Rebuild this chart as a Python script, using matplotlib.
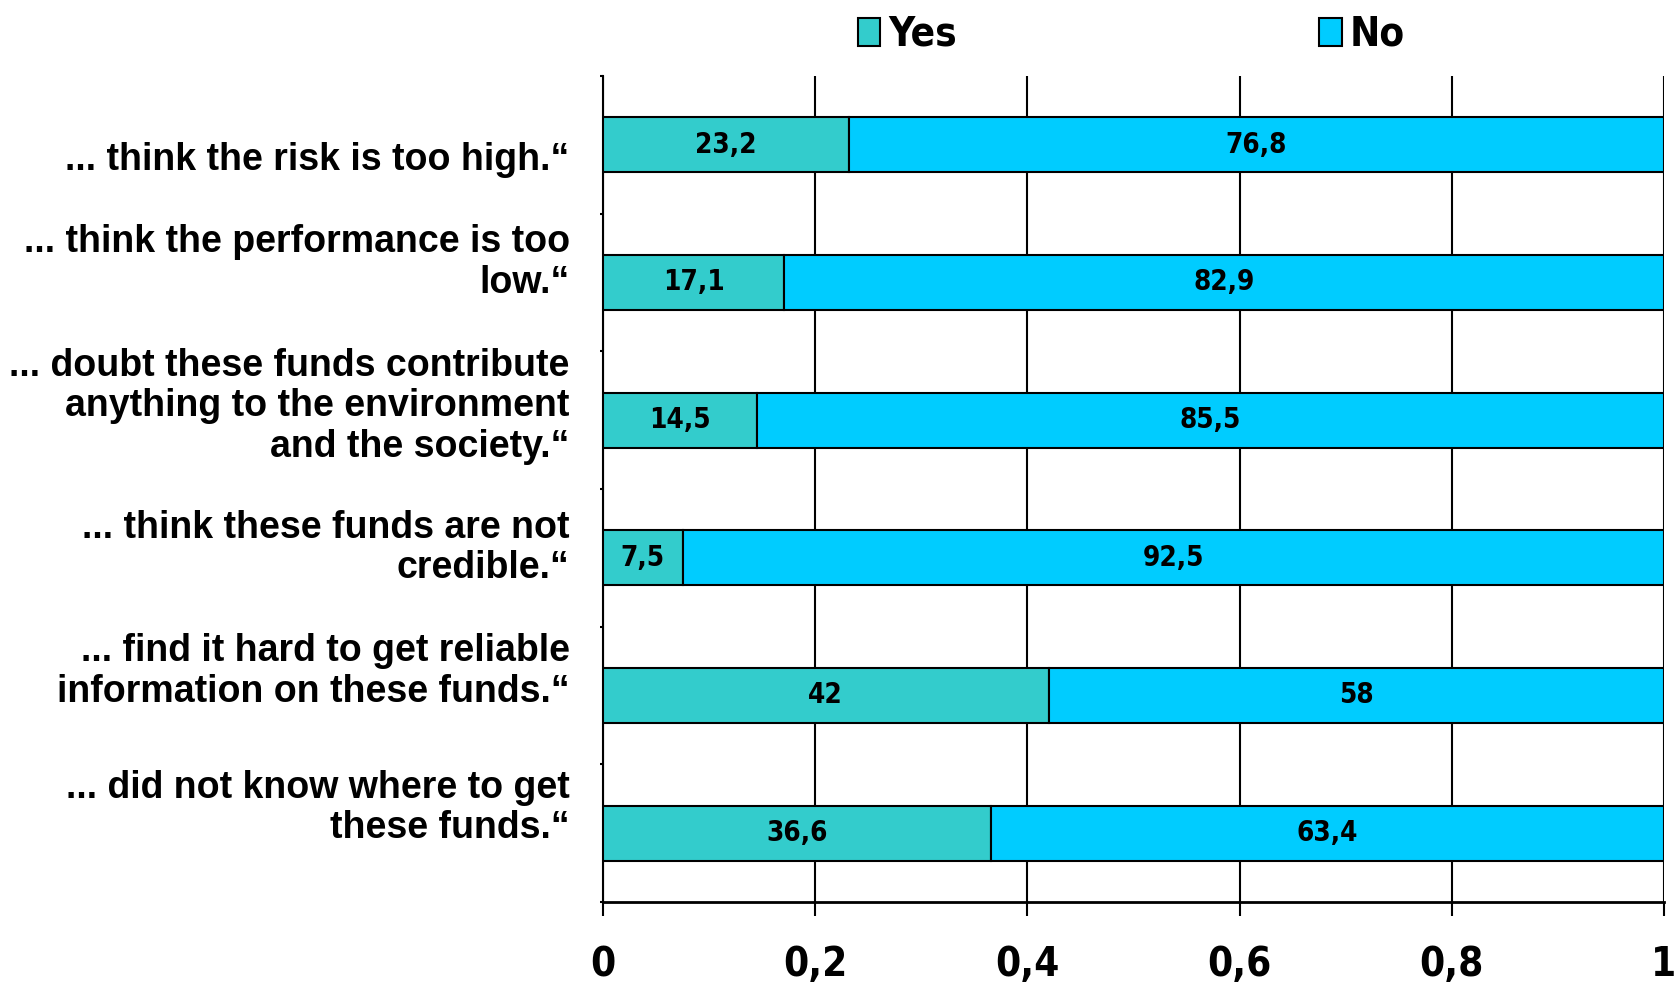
import matplotlib
matplotlib.use("Agg")
import matplotlib.pyplot as plt
import matplotlib.transforms as mtransforms
from matplotlib.patches import Patch
import numpy as np

categories = [
    "... think the risk is too high.\u201c",
    "... think the performance is too\nlow.\u201c",
    "... doubt these funds contribute\nanything to the environment\nand the society.\u201c",
    "... think these funds are not\ncredible.\u201c",
    "... find it hard to get reliable\ninformation on these funds.\u201c",
    "... did not know where to get\nthese funds.\u201c",
]
yes_values = [23.2, 17.1, 14.5, 7.5, 42, 36.6]
no_values = [76.8, 82.9, 85.5, 92.5, 58, 63.4]
xtick_values = [0, 0.2, 0.4, 0.6, 0.8, 1.0]
xtick_labels = ["0", "0,2", "0,4", "0,6", "0,8", "1"]
series_names = ["Yes", "No"]

YES_COLOR = "#33CCCC"
NO_COLOR = "#00CCFF"

num_font = dict(family="DejaVu Sans", weight="bold", stretch="condensed")

fig = plt.figure(figsize=(16.75, 9.83), dpi=100)
ax = fig.add_axes([0.360, 0.0824, 0.6334, 0.8403])

y = np.arange(len(categories))
yes = np.array(yes_values) / 100.0
no = np.array(no_values) / 100.0

ax.set_axisbelow(True)
ax.grid(axis="x", color="black", linewidth=1.5)
ax.barh(y, yes, height=0.40, color=YES_COLOR, edgecolor="black", linewidth=1.5, zorder=3)
ax.barh(y, no, left=yes, height=0.40, color=NO_COLOR, edgecolor="black", linewidth=1.5, zorder=3)

def fmt(v):
    return ("%g" % v).replace(".", ",")

for i in range(len(categories)):
    ax.text(yes[i] / 2, y[i], fmt(yes_values[i]), ha="center", va="center",
            fontsize=20, zorder=4, **num_font)
    ax.text(yes[i] + no[i] / 2, y[i], fmt(no_values[i]), ha="center", va="center",
            fontsize=20, zorder=4, **num_font)

ax.set_xlim(0, 1)
ax.set_ylim(len(categories) - 0.5, -0.5)
ax.set_xticks(xtick_values)
ax.set_xticklabels(xtick_labels, fontsize=29, **num_font)
ax.tick_params(axis="x", length=10, width=1.5, pad=21, direction="out")

ax.set_yticks(y)
ax.set_yticklabels(categories, fontsize=27, fontweight="bold",
                   family="Liberation Sans", linespacing=1.16, ha="right", va="center")
ax.tick_params(axis="y", length=0, pad=24)
label_offsets = [15, -20, -14, -10, -24, -25]
for lab, off in zip(ax.get_yticklabels(), label_offsets):
    lab.set_transform(lab.get_transform() + mtransforms.ScaledTranslation(0, -off / 100.0, fig.dpi_scale_trans))
ax.set_yticks(np.arange(-0.5, len(categories) + 0.5, 1.0), minor=True)
ax.tick_params(axis="y", which="minor", length=2, width=1.5)

for s in ["top", "right"]:
    ax.spines[s].set_visible(False)
ax.spines["left"].set_linewidth(1.5)
ax.spines["bottom"].set_linewidth(2)

handles = [Patch(facecolor=YES_COLOR, edgecolor="black", linewidth=1.5),
           Patch(facecolor=NO_COLOR, edgecolor="black", linewidth=1.5)]
fig.legend(handles, series_names, loc="upper left", bbox_to_anchor=(858 / 1675, 1 - 15 / 983),
           ncol=2, frameon=False, borderpad=0, borderaxespad=0,
           handlelength=0.55, handleheight=0.7, handletextpad=0.2, columnspacing=9.0,
           prop=dict(size=29, **num_font))

fig.savefig("out.png", dpi=100)
